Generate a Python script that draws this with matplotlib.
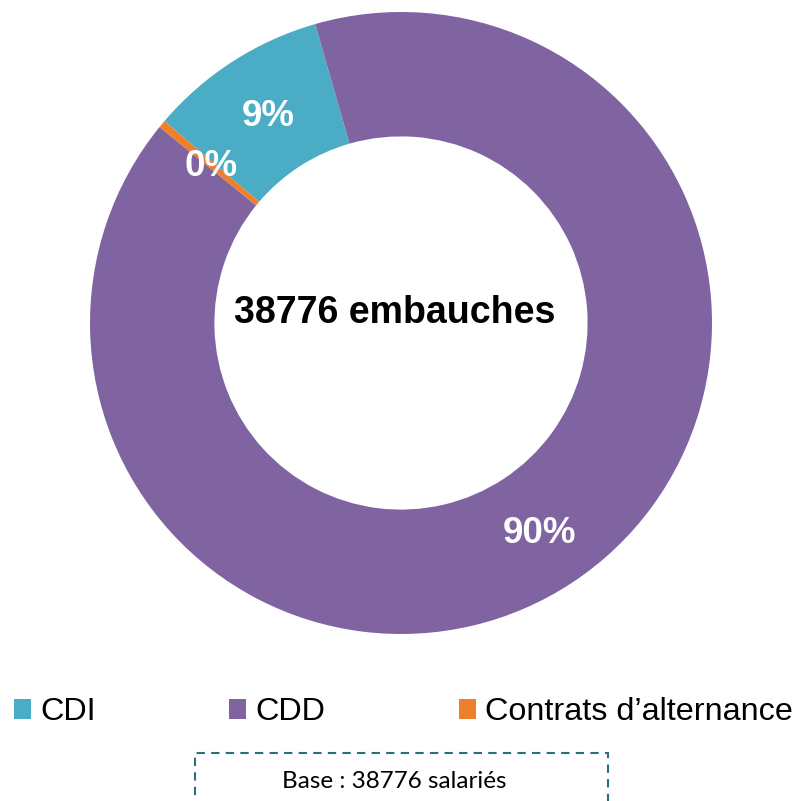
import matplotlib
matplotlib.use("Agg")
import matplotlib.pyplot as plt
from matplotlib.patches import Patch, Rectangle
import numpy as np

plt.rcParams['font.family'] = ['Liberation Sans', 'DejaVu Sans']

# Data
categories = ["CDI", "CDD", "Contrats d\u2019alternance"]
shares = [9.3, 90.3, 0.4]
pct_labels = ["9%", "90%", "0%"]
colors = ["#4BACC6", "#8064A2", "#EE7F2D"]
center_text = "38776 embauches"
base_text = "Base : 38776 salari\u00e9s"

W, H = 795, 801
fig = plt.figure(figsize=(W / 100, H / 100), dpi=100)

cx, cy, R = 401, 323, 311
ax = fig.add_axes([(cx - R) / W, (H - cy - R) / H, 2 * R / W, 2 * R / H])
wedges, _ = ax.pie(shares, colors=colors, startangle=139.5, counterclock=False,
                   radius=1.0, wedgeprops=dict(width=0.40, linewidth=0))
ax.set_xlim(-1, 1)
ax.set_ylim(-1, 1)
ax.set_aspect('equal')
ax.axis('off')

for w, lab in zip(wedges, pct_labels):
    th = np.deg2rad((w.theta1 + w.theta2) / 2)
    r = 0.80
    ax.text(r * np.cos(th) + 0.005, r * np.sin(th) - 0.008, lab, color='white', fontsize=26.5,
            fontweight='bold', ha='center', va='center')

ax.text(-0.02, 0.033, center_text, fontsize=27, fontweight='bold',
        ha='center', va='center', color='black')

handles = [Patch(facecolor=c, edgecolor='none') for c in colors]
fig.legend(handles, categories, loc='center left', bbox_to_anchor=(14 / W, 1 - 712 / H),
           ncol=3, frameon=False, fontsize=23.3, handlelength=0.52, handleheight=0.58,
           handletextpad=0.28, columnspacing=4.14, borderpad=0, borderaxespad=0)

box_top = 1 - 753 / H
box = Rectangle((195 / W, -0.05), (608 - 195) / W, box_top + 0.05, transform=fig.transFigure,
                fill=False, edgecolor='#2A6F7A', linewidth=1.5, linestyle=(0, (4, 3)),
                clip_on=False)
fig.add_artist(box)
fig.text(394 / W, 1 - 782 / H, base_text, fontsize=17.5, family=['Lato', 'DejaVu Sans'],
         ha='center', va='center', color='black')

fig.savefig('out.png', dpi=100)
